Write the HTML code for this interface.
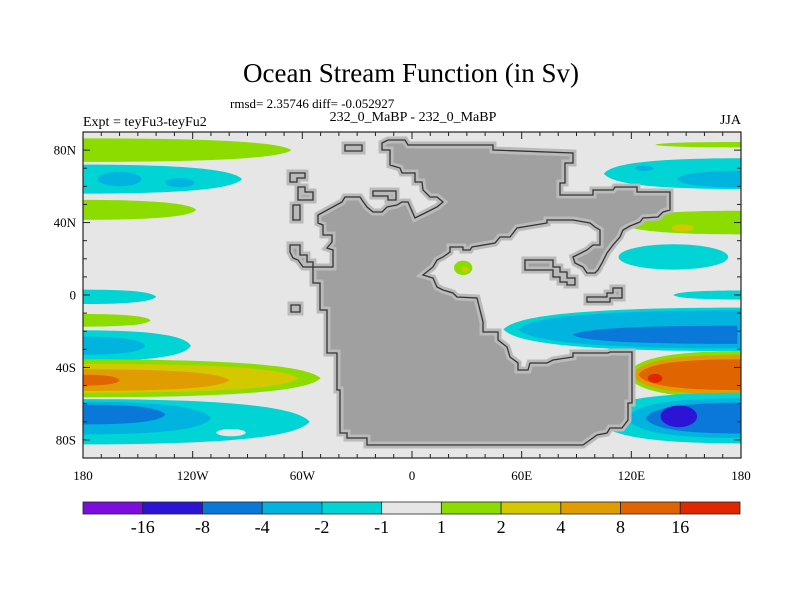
<!DOCTYPE html>
<html><head><meta charset="utf-8"><style>
html,body{margin:0;padding:0;background:#fff;}
svg{display:block;font-family:"Liberation Serif",serif;}
</style></head><body>
<svg id="chart" width="800" height="600" viewBox="0 0 800 600" xmlns="http://www.w3.org/2000/svg">
<text x="411" y="82" font-size="27" text-anchor="middle">Ocean Stream Function (in Sv)</text>
<text x="230" y="108" font-size="13">rmsd= 2.35746 diff= -0.052927</text>
<text x="83" y="126" font-size="14">Expt = teyFu3-teyFu2</text>
<text x="413" y="121" font-size="14" text-anchor="middle">232_0_MaBP - 232_0_MaBP</text>
<text x="741" y="124" font-size="14" text-anchor="end">JJA</text>
<defs><clipPath id="pc"><rect x="83" y="132" width="658" height="326"/></clipPath></defs>
<rect x="83" y="132" width="658" height="326" fill="#e6e6e6"/>
<g id="fields" clip-path="url(#pc)"></g>
<g id="land">
<g fill="#a0a0a0" stroke="#bababa" stroke-width="7" stroke-linejoin="miter">
<path id="mainland" d="M382,143 L388,140 L405,140 L408,145 L493,145 L493,150 L573,153 L573,163 L565,163 L565,183 L560,183 L560,195 L593,195 L593,190 L613,190 L615,187 L637,187 L637,192 L670,192 L670,210 L663,212 L658,217 L643,218 L640,222 L630,226 L623,230 L620,237 L613,245 L607,253 L602,263 L598,270 L595,273 L587,273 L583,267 L575,263 L573,257 L577,255 L587,250 L593,245 L600,245 L600,230 L595,227 L590,223 L573,220 L547,220 L547,223 L517,228 L510,237 L500,237 L495,243 L472,247 L470,250 L463,250 L463,247 L450,247 L450,252 L443,257 L437,260 L433,267 L423,275 L433,278 L437,287 L443,290 L453,293 L457,297 L477,298 L480,310 L483,322 L483,332 L498,332 L498,340 L507,347 L510,357 L518,363 L518,370 L528,370 L530,363 L547,363 L553,360 L573,357 L573,353 L608,353 L610,352 L632,352 L632,403 L628,403 L628,420 L622,428 L610,428 L607,433 L597,435 L590,440 L583,445 L367,445 L367,438 L347,438 L347,433 L340,433 L340,390 L337,390 L337,353 L327,353 L327,310 L320,310 L320,283 L313,283 L313,262 L307,262 L307,255 L300,255 L300,245 L290,245 L290,252 L293,258 L298,260 L303,267 L320,267 L333,267 L333,250 L327,248 L332,242 L332,235 L323,235 L323,225 L318,223 L318,215 L342,202 L345,197 L360,197 L362,200 L367,207 L373,212 L382,212 L387,207 L397,205 L402,202 L408,202 L415,218 L425,213 L437,207 L443,202 L437,197 L430,197 L423,190 L422,182 L415,182 L415,173 L402,173 L400,168 L390,165 L390,150 L382,150 Z"/>
<path d="M345,145 L362,145 L362,151 L345,151 Z"/>
<path d="M373,191 L396,191 L396,200 L388,200 L388,196 L373,196 Z"/>
<path d="M290,173 L305,173 L305,178 L297,178 L297,182 L290,182 Z"/>
<path d="M298,187 L305,187 L305,192 L313,192 L313,200 L298,200 Z"/>
<path d="M293,205 L300,205 L300,220 L293,220 Z"/>
<path d="M291,305 L300,305 L300,312 L291,312 Z"/>
<path d="M525,260 L553,260 L553,267 L560,267 L560,272 L567,272 L567,278 L575,278 L575,285 L567,285 L567,282 L560,282 L560,277 L553,277 L553,270 L525,270 Z"/>
<path d="M587,297 L607,297 L607,293 L613,293 L613,288 L622,288 L622,298 L610,298 L610,302 L587,302 Z"/>
</g>
<g id="landline" fill="none" stroke="#333" stroke-width="1.3"></g>
</g>
<rect x="83" y="132" width="658" height="326" fill="none" stroke="#222" stroke-width="1.2"/>
<g id="axes"></g>
<g id="colorbar"></g>
</svg>
<script>
// Color levels and palette
const levelLabels = ["-16","-8","-4","-2","-1","1","2","4","8","16"];
const palette = ["#7d0ddc","#2d14d4","#0a78d8","#00b4e0","#00d4d4","#e6e6e6","#8cdc00","#d4c800","#e09c00","#e06400","#e02800"];
const lonTicks = [-180,-120,-60,0,60,120,180];
const lonTickLabels = ["180","120W","60W","0","60E","120E","180"];
const latTicks = [80,40,0,-40,-80];
const latTickLabels = ["80N","40N","0","40S","80S"];
// Contour blobs: type, lonA, lonB/rx, lat, width/ry, colour index
const blobType = ["L","L","E","E","L","L","L","L","L","L","L","L","L","L","L","L","E",
 "R","R","R","E","R","E","E","R","R","R","R","R","R","R","R","E","R","R","R","E","E","E"];
const blobLonA = [-180,-180,-160,-127,-180,-180,-180,-180,-180,-180,-180,-180,-180,-180,-180,-180,-99,
 180,180,180,127,180,148,143,180,180,180,180,178,180,180,180,133,180,180,180,146,28,29];
const blobLonB = [-66,-93,12,8,-118,-140,-143,-121,-146,-50,-62,-100,-160,-56,-110,-135,8,
 133,105,145,5,114,6,30,143,167,50,58,88,118,121,124,4,100,118,128,10,5,2];
const blobLat = [80,64,64,62,47,-1,-14,-28,-28,-46,-46,-47,-47,-70,-68,-66,-76,
 83,67,64,70,40,37,21,0,-13,-19,-19,-22,-44,-44,-44,-46,-68,-68,-68,-67,15,14];
const blobW = [13,16,4,2.5,11,8,7,17,10,21,16,12,6,25,18,11,2,
 3,17,9,1.5,13,2,7,5,5,24,21,10,26,22,17,2.5,28,22,17,6,4,1.5];
const blobColor = [6,4,3,3,6,4,6,4,3,6,7,8,9,4,3,2,5,
 6,4,3,3,6,7,4,4,6,4,3,2,6,8,9,10,4,3,2,1,6,7];

const NS="http://www.w3.org/2000/svg";
const PX0=83, PX1=741, PY0=132, PY1=458;
function X(lon){return PX0+(lon+180)/360*(PX1-PX0);}
function Y(lat){return PY0+(90-lat)/180*(PY1-PY0);}
function mk(tag,attrs,parent){const e=document.createElementNS(NS,tag);for(const k in attrs)e.setAttribute(k,attrs[k]);parent.appendChild(e);return e;}

const fields=document.getElementById("fields");
for(let i=0;i<blobType.length;i++){
  const t=blobType[i], c=palette[blobColor[i]];
  let el;
  if(t==="E"){
    const rx=blobLonB[i]/360*(PX1-PX0), ry=blobW[i]/180*(PY1-PY0);
    el=mk("ellipse",{cx:X(blobLonA[i]),cy:Y(blobLat[i]),rx:rx,ry:ry,fill:c},fields);
  } else {
    const x0=X(blobLonA[i]), x1=X(blobLonB[i]), yc=Y(blobLat[i]);
    const h=blobW[i]/180*(PY1-PY0)/2, d=x1-x0;
    const yt=yc-h, yb=yc+h;
    const p="M"+x0+","+yt+" C"+(x0+0.7*d)+","+yt+" "+(x1-0.05*d)+","+(yc-h*0.6)+" "+x1+","+yc+
      " C"+(x1-0.05*d)+","+(yc+h*0.6)+" "+(x0+0.7*d)+","+yb+" "+x0+","+yb+" Z";
    el=mk("path",{d:p,fill:c},fields);
  }
  
  
}

// land outlines
const ll=document.getElementById("landline");
document.querySelectorAll("#land > g path").forEach(p=>{
  const o=mk("path",{d:p.getAttribute("d")},ll);
  
  
});

// axes ticks
const ax=document.getElementById("axes");
for(let lon=-180;lon<=180;lon+=10){
  const major=lon%60===0, L=major?7:4, x=X(lon);
  const t1=mk("line",{x1:x,y1:PY0,x2:x,y2:PY0+L,stroke:"#222","stroke-width":1},ax);
  
  
  const t2=mk("line",{x1:x,y1:PY1,x2:x,y2:PY1-L,stroke:"#222","stroke-width":1},ax);
  
  
}
for(let lat=-90;lat<=90;lat+=10){
  const major=lat%40===0, L=major?7:4, y=Y(lat);
  const t1=mk("line",{x1:PX0,y1:y,x2:PX0+L,y2:y,stroke:"#222","stroke-width":1},ax);
  
  
  const t2=mk("line",{x1:PX1,y1:y,x2:PX1-L,y2:y,stroke:"#222","stroke-width":1},ax);
  
  
}
lonTicks.forEach((lon,i)=>{
  const t=mk("text",{x:X(lon),y:480,"font-size":13,"text-anchor":"middle"},ax);
  t.textContent=lonTickLabels[i];
  
  
});
latTicks.forEach((lat,i)=>{
  const t=mk("text",{x:76,y:Y(lat)+4.5,"font-size":13,"text-anchor":"end"},ax);
  t.textContent=latTickLabels[i];
  
  
});

// colorbar
const cb=document.getElementById("colorbar");
const CB0=83, CB1=740, CBY=502, CBH=12, n=palette.length, bw=(CB1-CB0)/n;
palette.forEach((c,i)=>{
  const r=mk("rect",{x:CB0+i*bw,y:CBY,width:bw,height:CBH,fill:c,stroke:"#222","stroke-width":0.8},cb);
  
  
});
levelLabels.forEach((s,i)=>{
  const t=mk("text",{x:CB0+(i+1)*bw,y:533,"font-size":18,"text-anchor":"middle"},cb);
  t.textContent=s;
  
  
});
</script>
</body></html>
